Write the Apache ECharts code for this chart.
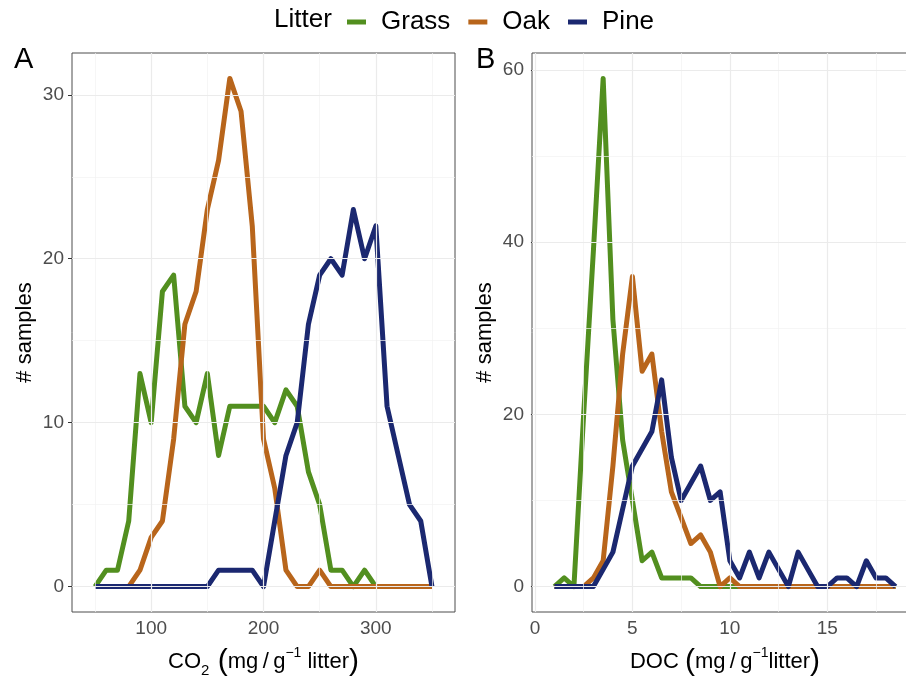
<!DOCTYPE html>
<html>
<head>
<meta charset="utf-8">
<script src="https://cdn.jsdelivr.net/npm/echarts@6.0.0/dist/echarts.min.js"></script>
<style>
html,body{margin:0;padding:0;background:#fff;}
#chart{width:906px;height:676px;}
</style>
</head>
<body>
<div id="chart"></div>
<script>
// ---------- data ----------
const seriesNames = ['Grass', 'Oak', 'Pine'];
const co2Bins = [50,60,70,80,90,100,110,120,130,140,150,160,170,180,190,200,210,220,230,240,250,260,270,280,290,300,310,320,330,340,350];
const grassCO2 = [0,1,1,4,13,10,18,19,11,10,13,8,11,11,11,11,10,12,11,7,5,1,1,0,1,0,0,0,0,0,0];
const oakCO2   = [0,0,0,0,1,3,4,9,16,18,23,26,31,29,22,9,6,1,0,0,1,0,0,0,0,0,0,0,0,0,0];
const pineCO2  = [0,0,0,0,0,0,0,0,0,0,0,1,1,1,1,0,4,8,10,16,19,20,19,23,20,22,11,8,5,4,0];

const docBins = [1,1.5,2,2.5,3,3.5,4,4.5,5,5.5,6,6.5,7,7.5,8,8.5,9,9.5,10,10.5,11,11.5,12,12.5,13,13.5,14,14.5,15,15.5,16,16.5,17,17.5,18,18.5];
const grassDOC = [0,1,0,20,39,59,31,17,10,3,4,1,1,1,1,0,0,0,0,0,0,0,0,0,0,0,0,0,0,0,0,0,0,0,0,0];
const oakDOC   = [0,0,0,0,1,3,14,27,36,25,27,18,11,8,5,6,4,0,1,0,0,0,0,0,0,0,0,0,0,0,0,0,0,0,0,0];
const pineDOC  = [0,0,0,0,0,2,4,9,14,16,18,24,15,10,12,14,10,11,3,1,4,1,4,2,0,4,2,0,0,1,1,0,3,1,1,0];

// tick labels / grid lines
const co2Ticks = [100,200,300];
const co2Minor = [50,150,250,350];
const countTicksA = [0,10,20,30];
const countMinorA = [5,15,25];
const docTicks = [0,5,10,15];
const docMinor = [2.5,7.5,12.5,17.5];
const countTicksB = [0,20,40,60];
const countMinorB = [10,30,50];

// ---------- styling ----------
const colors = {Grass:'#528f1f', Oak:'#b8651b', Pine:'#1b2870'};
const FONT = "'Liberation Sans', Arial, Helvetica, sans-serif";
const tickText = {color:'#4d4d4d', fontSize:19, fontFamily:FONT};

function pairs(xs, ys){ return xs.map((x,i)=>[x, ys[i]]); }

function lineSeries(name, xs, ys, idx){
  return {
    name: name, type:'line', xAxisIndex:idx, yAxisIndex:idx,
    data: pairs(xs, ys), showSymbol:false, symbol:'none',
    lineStyle:{color:colors[name], width:5, cap:'butt', join:'round'},
    itemStyle:{color:colors[name]},
    silent:true, clip:true
  };
}

function gridSeries(idx, xMajor, xMinor, yMajor, yMinor){
  const major = {color:'#ebebeb', width:1.2, type:'solid'};
  const minor = {color:'#f2f2f2', width:0.7, type:'solid'};
  const d = [];
  xMinor.forEach(v=>d.push({xAxis:v, lineStyle:minor}));
  yMinor.forEach(v=>d.push({yAxis:v, lineStyle:minor}));
  xMajor.forEach(v=>d.push({xAxis:v, lineStyle:major}));
  yMajor.forEach(v=>d.push({yAxis:v, lineStyle:major}));
  return {
    name:'grid'+idx, type:'line', xAxisIndex:idx, yAxisIndex:idx, data:[], silent:true, z:1,
    markLine:{silent:true, symbol:['none','none'], label:{show:false}, animation:false, data:d}
  };
}

const richName = {
  t:{fontSize:22, fontFamily:FONT, color:'#000', lineHeight:32, verticalAlign:'middle'},
  p:{fontSize:30, fontFamily:FONT, color:'#000', lineHeight:32, verticalAlign:'middle'},
  s:{fontSize:15, fontFamily:FONT, color:'#000', lineHeight:14, verticalAlign:'bottom'},
  u:{fontSize:14, fontFamily:FONT, color:'#000', lineHeight:22, verticalAlign:'top'}
};

function xAxisDef(idx, min, max, ticks, nameRich){
  return {
    type:'value', gridIndex:idx, min:min, max:max,
    axisLine:{show:false},
    axisTick:{show:true, length:4, customValues:ticks, lineStyle:{color:'#333', width:1}},
    axisLabel:{show:true, customValues:ticks, margin:7, ...tickText},
    splitLine:{show:false},
    name: nameRich, nameLocation:'middle', nameGap:34,
    nameTextStyle:{color:'#000', fontFamily:FONT, rich:richName}
  };
}

function yAxisDef(idx, min, max, ticks){
  return {
    type:'value', gridIndex:idx, min:min, max:max,
    axisLine:{show:false},
    axisTick:{show:true, length:4, customValues:ticks, lineStyle:{color:'#333', width:1}},
    axisLabel:{show:true, customValues:ticks, margin:8, ...tickText},
    splitLine:{show:false},
    name:'# samples', nameLocation:'middle', nameGap:36, nameRotate:90,
    nameTextStyle:{color:'#000', fontSize:22, fontFamily:FONT}
  };
}

const option = {
  animation:false,
  backgroundColor:'#ffffff',
  title:[
    {text:'Litter', left:269, top:2, textStyle:{fontSize:26, fontWeight:'normal', color:'#000', fontFamily:FONT}},
    {text:'A', left:9, top:40, textStyle:{fontSize:29, fontWeight:'normal', color:'#000', fontFamily:FONT}},
    {text:'B', left:471, top:40, textStyle:{fontSize:29, fontWeight:'normal', color:'#000', fontFamily:FONT}}
  ],
  legend:{
    data:seriesNames, left:342, top:4, orient:'horizontal',
    icon:'rect', itemWidth:19, itemHeight:5, itemGap:18,
    textStyle:{fontSize:26, color:'#000', fontFamily:FONT, padding:[0,0,0,10]}
  },
  grid:[
    {left:72, top:53, width:383, height:559, show:true, borderColor:'#4d4d4d', borderWidth:1, backgroundColor:'transparent', outerBoundsMode:'none', containLabel:false},
    {left:532, top:53, width:386, height:559, show:true, borderColor:'#4d4d4d', borderWidth:1, backgroundColor:'transparent', outerBoundsMode:'none', containLabel:false}
  ],
  xAxis:[
    xAxisDef(0, 29.5, 370.5, co2Ticks, '{t|CO}{s|2}{p| (}{t|mg\u2009/\u2009g}{u|−1}{t| litter}{p|)}'),
    xAxisDef(1, -0.15, 19.65, docTicks, '{t|DOC }{p|(}{t|mg\u2009/\u2009g}{u|−1}{t|litter}{p|)}')
  ],
  yAxis:[
    yAxisDef(0, -1.55, 32.55, countTicksA),
    yAxisDef(1, -2.95, 61.95, countTicksB)
  ],
  series:[
    gridSeries(0, co2Ticks, co2Minor, countTicksA, countMinorA),
    gridSeries(1, docTicks, docMinor, countTicksB, countMinorB),
    lineSeries('Grass', co2Bins, grassCO2, 0),
    lineSeries('Oak', co2Bins, oakCO2, 0),
    lineSeries('Pine', co2Bins, pineCO2, 0),
    lineSeries('Grass', docBins, grassDOC, 1),
    lineSeries('Oak', docBins, oakDOC, 1),
    lineSeries('Pine', docBins, pineDOC, 1)
  ]
};

const chart = echarts.init(document.getElementById('chart'), null, {renderer:'canvas'});
chart.setOption(option);
</script>
</body>
</html>
